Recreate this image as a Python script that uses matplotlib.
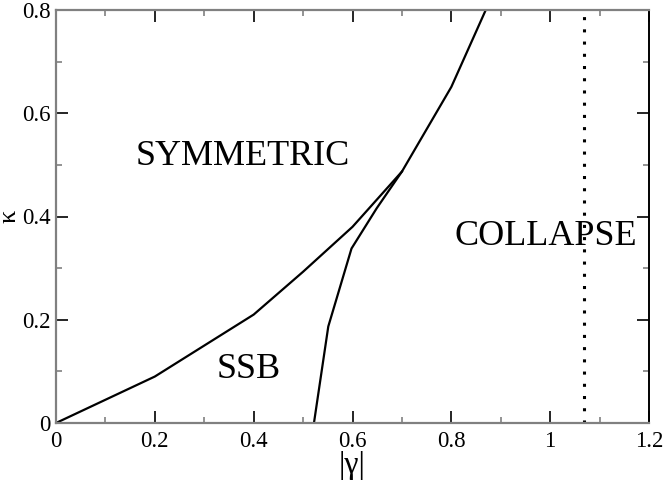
import matplotlib
matplotlib.use("Agg")
import matplotlib.pyplot as plt
from matplotlib.ticker import MultipleLocator

# boundary between symmetric and SSB / collapse regions
gamma_upper = [0.0, 0.2, 0.4, 0.5, 0.6, 0.7, 0.8, 0.9]
kappa_upper = [0.0, 0.09, 0.21, 0.293, 0.38, 0.487, 0.651, 0.865]

# boundary between SSB and collapse
gamma_lower = [0.522, 0.551, 0.598, 0.649, 0.7]
kappa_lower = [0.0, 0.187, 0.338, 0.416, 0.487]

# collapse threshold
gamma_collapse = 1.068

plt.rcParams['font.family'] = ['Liberation Serif', 'DejaVu Serif']

fig = plt.figure(figsize=(6.64, 4.83), dpi=100)
ax = fig.add_axes([56 / 664, 1 - 423 / 483, 593 / 664, 413 / 483])

ax.plot(gamma_upper, kappa_upper, color='black', lw=1.6)
ax.plot(gamma_lower, kappa_lower, color='black', lw=1.6)
ax.axvline(gamma_collapse, color='black', lw=2.2, linestyle=(0, (1, 3.0)))

ax.text(0.377, 0.517, "SYMMETRIC", fontsize=26, ha='center', va='center')
ax.text(0.39, 0.103, "SSB", fontsize=26, ha='center', va='center')
ax.text(0.991, 0.362, "COLLAPSE", fontsize=26, ha='center', va='center')

ax.set_xlim(0, 1.2)
ax.set_ylim(0, 0.8)
ax.xaxis.set_minor_locator(MultipleLocator(0.1))
ax.yaxis.set_minor_locator(MultipleLocator(0.1))
ax.set_xticks([0, 0.2, 0.4, 0.6, 0.8, 1.0, 1.2])
ax.set_xticklabels(["0", "0.2", "0.4", "0.6", "0.8", "1", "1.2"])
ax.set_yticks([0, 0.2, 0.4, 0.6, 0.8])
ax.set_yticklabels(["0", "0.2", "0.4", "0.6", "0.8"])

ax.tick_params(which='both', direction='in', top=True, right=True, labelsize=16.5)
ax.tick_params(axis='x', pad=6)
ax.tick_params(axis='y', pad=4)
ax.tick_params(which='major', length=8.6, width=1.2, color='black')
ax.tick_params(which='minor', length=4.3, width=1.2, color='#808080')

for side in ['left', 'bottom', 'top']:
    ax.spines[side].set_color('#808080')
    ax.spines[side].set_linewidth(1.6)
ax.spines['right'].set_color('black')
ax.spines['right'].set_linewidth(1.4)

# axis labels placed by hand so they stay inside the figure
fig.text(352 / 664, 1 - 465 / 483, "|γ|", fontsize=23, ha='center', va='center')
fig.text(10 / 664, 1 - 216 / 483, "κ", fontsize=19, ha='center', va='center', rotation=90)

fig.savefig("out.png", dpi=100)
